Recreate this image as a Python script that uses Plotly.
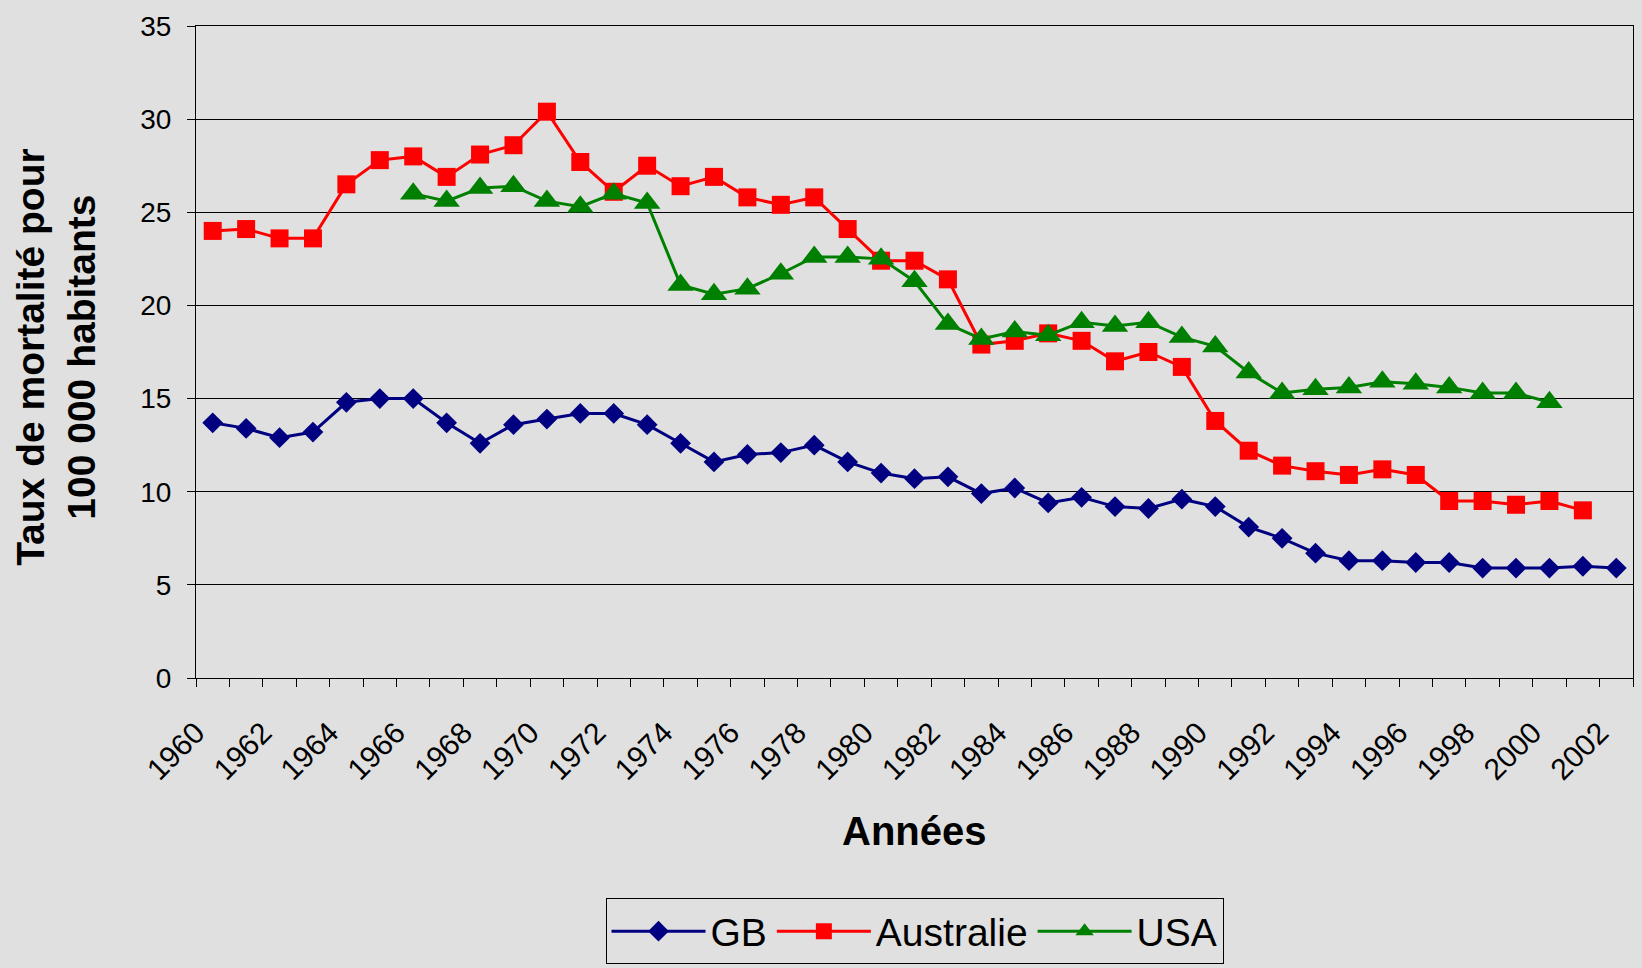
import plotly.graph_objects as go

years = list(range(1960, 2003))
gb = [13.7, 13.4, 12.9, 13.2, 14.8, 15.0, 15.0, 13.7, 12.6, 13.6,
      13.9, 14.2, 14.2, 13.6, 12.6, 11.6, 12.0, 12.1, 12.5, 11.6,
      11.0, 10.7, 10.8, 9.9, 10.2, 9.4, 9.7, 9.2, 9.1, 9.6,
      9.2, 8.1, 7.5, 6.7, 6.3, 6.3, 6.2, 6.2, 5.9, 5.9,
      5.9, 6.0, 5.9]
aus_years = list(range(1960, 2002))
aus = [24.0, 24.1, 23.6, 23.6, 26.5, 27.8, 28.0, 26.9, 28.1, 28.6,
       30.4, 27.7, 26.1, 27.5, 26.4, 26.9, 25.8, 25.4, 25.8, 24.1,
       22.4, 22.4, 21.4, 17.9, 18.1, 18.5, 18.1, 17.0, 17.5, 16.7,
       13.8, 12.2, 11.4, 11.1, 10.9, 11.2, 10.9, 9.5, 9.5, 9.3,
       9.5, 9.0]
usa_years = list(range(1966, 2001))
usa = [26.0, 25.6, 26.3, 26.4,
       25.6, 25.3, 26.0, 25.5, 21.1, 20.6, 20.9, 21.7, 22.6, 22.6,
       22.5, 21.3, 19.0, 18.2, 18.6, 18.4, 19.1, 18.9, 19.1, 18.3,
       17.8, 16.4, 15.3, 15.5, 15.6, 15.9, 15.8, 15.6, 15.3, 15.3,
       14.8]
tick_labels = [str(y) for y in range(1960, 2003, 2)]

FONT = "Liberation Sans, Arial, sans-serif"
BG = "#e0e0e0"

fig = go.Figure()
fig.add_trace(go.Scatter(x=years, y=gb, name="GB", mode="lines+markers",
                         line=dict(color="#000080", width=3),
                         marker=dict(symbol="diamond", size=16, color="#000080")))
fig.add_trace(go.Scatter(x=aus_years, y=aus, name="Australie", mode="lines+markers",
                         line=dict(color="#ff0000", width=3),
                         marker=dict(symbol="square", size=18, color="#ff0000")))
fig.add_trace(go.Scatter(x=usa_years, y=usa, name="USA", mode="lines+markers",
                         line=dict(color="#008000", width=3),
                         marker=dict(symbol="triangle-up", size=23, color="#008000")))

tickvals = [int(t) - 0.5 for t in tick_labels]

fig.update_layout(
    width=1642, height=968,
    margin=dict(l=196, r=9, t=26, b=290, autoexpand=False),
    paper_bgcolor=BG, plot_bgcolor=BG,
    font=dict(family=FONT, color="black"),
    showlegend=True,
    legend=dict(orientation="h", x=0.5, xanchor="center",
                yref="container", y=0.072, yanchor="top",
                bordercolor="black", borderwidth=1, bgcolor="rgba(0,0,0,0)",
                font=dict(size=39, family=FONT), itemwidth=94),
    xaxis=dict(range=[1959.5, 2002.5], tickmode="array", tickvals=tickvals,
               ticktext=tick_labels, tickangle=-45, tickfont=dict(size=30, family=FONT),
               ticks="outside", ticklen=8, tickcolor="black", tickwidth=1,
               ticklabelstandoff=16,
               minor=dict(tickmode="linear", tick0=1959.5, dtick=1, ticks="outside",
                          ticklen=8, tickcolor="black", tickwidth=1, showgrid=False),
               showgrid=False, showline=True, linecolor="black", linewidth=1,
               mirror=True, zeroline=False, fixedrange=True, automargin=False),
    yaxis=dict(range=[0, 35], dtick=5, tickfont=dict(size=28, family=FONT),
               ticks="outside", ticklen=8, tickcolor="black", tickwidth=1,
               ticklabelstandoff=10,
               showgrid=True, gridcolor="black", gridwidth=1,
               showline=True, linecolor="black", linewidth=1, mirror=True,
               zeroline=False, fixedrange=True, automargin=False),
    annotations=[
        dict(text="<b>Années</b>", xref="paper", yref="paper", x=0.5, y=-0.234,
             xanchor="center", yanchor="middle", showarrow=False,
             font=dict(size=40, family=FONT)),
        dict(text="<b>Taux de mortalité pour<br>100 000 habitants</b>", xref="paper",
             yref="paper", x=-0.097, y=0.492, xanchor="center", yanchor="middle",
             textangle=-90, showarrow=False, font=dict(size=39, family=FONT)),
    ],
)

fig.write_html("out.html", config={"displayModeBar": False},
               post_script="document.body.style.margin='0';"
                           "document.body.style.background='#e0e0e0';")
